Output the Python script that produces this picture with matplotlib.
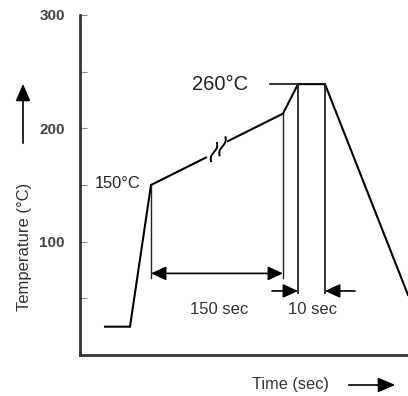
import matplotlib.pyplot as plt
import numpy as np

plt.rcParams['font.family'] = ['Liberation Sans', 'DejaVu Sans']

# reflow profile (schematic time units, temperature in degC as drawn)
profile_t = [25, 50, 71, 203, 218, 245, 328]
profile_T = [25, 25, 150, 213, 239, 239, 53]

y_major = [100, 200, 300]
y_minor = [50, 150, 250]

break_gap = (126, 148)
break_marks_t = [134, 142.5]

soak_span = (71, 203)       # 150 sec
peak_span = (218, 245)      # 10 sec

ink = '#222222'

fig = plt.figure(figsize=(4.08, 3.96), dpi=100)
ax = fig.add_axes([80 / 408, 41 / 396, 328 / 408, 340 / 396])
ax.set_xlim(0, 328)
ax.set_ylim(0, 300)

for s in ['top', 'right']:
    ax.spines[s].set_visible(False)
for s in ['left', 'bottom']:
    ax.spines[s].set_linewidth(2)
    ax.spines[s].set_color('#333333')

ax.set_xticks([])
ax.set_yticks(y_major)
ax.set_yticks(y_minor, minor=True)
ax.tick_params(axis='y', which='both', direction='in', length=5, width=0.8,
               color='#888888', pad=11, labelsize=11, labelcolor='#444444')
for lab in ax.get_yticklabels():
    lab.set_fontweight('bold')

# profile line with a break in the soak slope
t = np.array(profile_t, dtype=float)
T = np.array(profile_T, dtype=float)
g0, g1 = break_gap
T_g0 = np.interp(g0, t, T)
T_g1 = np.interp(g1, t, T)
left_t = list(t[t < g0]) + [g0]
left_T = list(T[t < g0]) + [T_g0 - 2]
right_t = [g1] + list(t[t > g1])
right_T = [T_g1 + 2] + list(T[t > g1])
ax.plot(left_t, left_T, color='black', lw=1.5, solid_joinstyle='miter')
ax.plot(right_t, right_T, color='black', lw=1.5, solid_joinstyle='miter')

# wavy break marks
for i, bt in enumerate(break_marks_t):
    bT = np.interp(bt, t, T) - 1 + i
    s = np.linspace(-1, 1, 30)
    ax.plot(bt + 3 * s + 1.4 * np.sin(np.pi * s), bT + 8 * s, color='black', lw=1.4)

# 260 degC reference line
ax.plot([190, profile_t[4]], [profile_T[4], profile_T[4]], color=ink, lw=1.3)

# vertical guide lines
ax.plot([soak_span[0]] * 2, [68, profile_T[2]], color=ink, lw=1)
ax.plot([soak_span[1]] * 2, [68, profile_T[3]], color=ink, lw=1)
ax.plot([peak_span[0]] * 2, [55, profile_T[4]], color=ink, lw=1.3)
ax.plot([peak_span[1]] * 2, [55, profile_T[5]], color=ink, lw=1.3)

arrow_kw = dict(color='black', lw=1.2, mutation_scale=14, shrinkA=0, shrinkB=0)
ax.annotate('', xy=(soak_span[0], 72), xytext=(soak_span[1], 72),
            arrowprops=dict(arrowstyle='<|-|>,head_length=0.65,head_width=0.3', **arrow_kw))
ax.annotate('', xy=(peak_span[0], 56.5), xytext=(peak_span[0] - 26, 56.5),
            arrowprops=dict(arrowstyle='-|>,head_length=0.65,head_width=0.3', **arrow_kw))
ax.annotate('', xy=(peak_span[1], 56.5), xytext=(peak_span[1] + 30, 56.5),
            arrowprops=dict(arrowstyle='-|>,head_length=0.65,head_width=0.3', **arrow_kw))

ax.text(139, 40, '150 sec', ha='center', va='center', fontsize=12, color='#333333')
ax.text(232, 40, '10 sec', ha='center', va='center', fontsize=12, color='#333333')
ax.text(61, 151, '150°C', ha='right', va='center', fontsize=11.8, color='#222222')
ax.text(168, 239, '260°C', ha='right', va='center', fontsize=14.5, color='#222222')

# axis labels with direction arrows
fig.text(25 / 408, 1 - 247 / 396, 'Temperature (°C)', rotation=90, ha='center',
         va='center', fontsize=12, color='#333333')
fig.add_artist(plt.matplotlib.patches.FancyArrowPatch(
    (23 / 408, 1 - 146 / 396), (23 / 408, 1 - 81 / 396), transform=fig.transFigure,
    arrowstyle='-|>,head_length=0.7,head_width=0.3', mutation_scale=15,
    color='black', lw=1.2))
fig.text(290 / 408, 1 - 385 / 396, 'Time (sec)', ha='center', va='center',
         fontsize=11.8, color='#333333')
fig.add_artist(plt.matplotlib.patches.FancyArrowPatch(
    (346 / 408, 1 - 385 / 396), (398 / 408, 1 - 385 / 396), transform=fig.transFigure,
    arrowstyle='-|>,head_length=0.7,head_width=0.3', mutation_scale=15,
    color='black', lw=1.2))

fig.savefig('out.png', dpi=100)
